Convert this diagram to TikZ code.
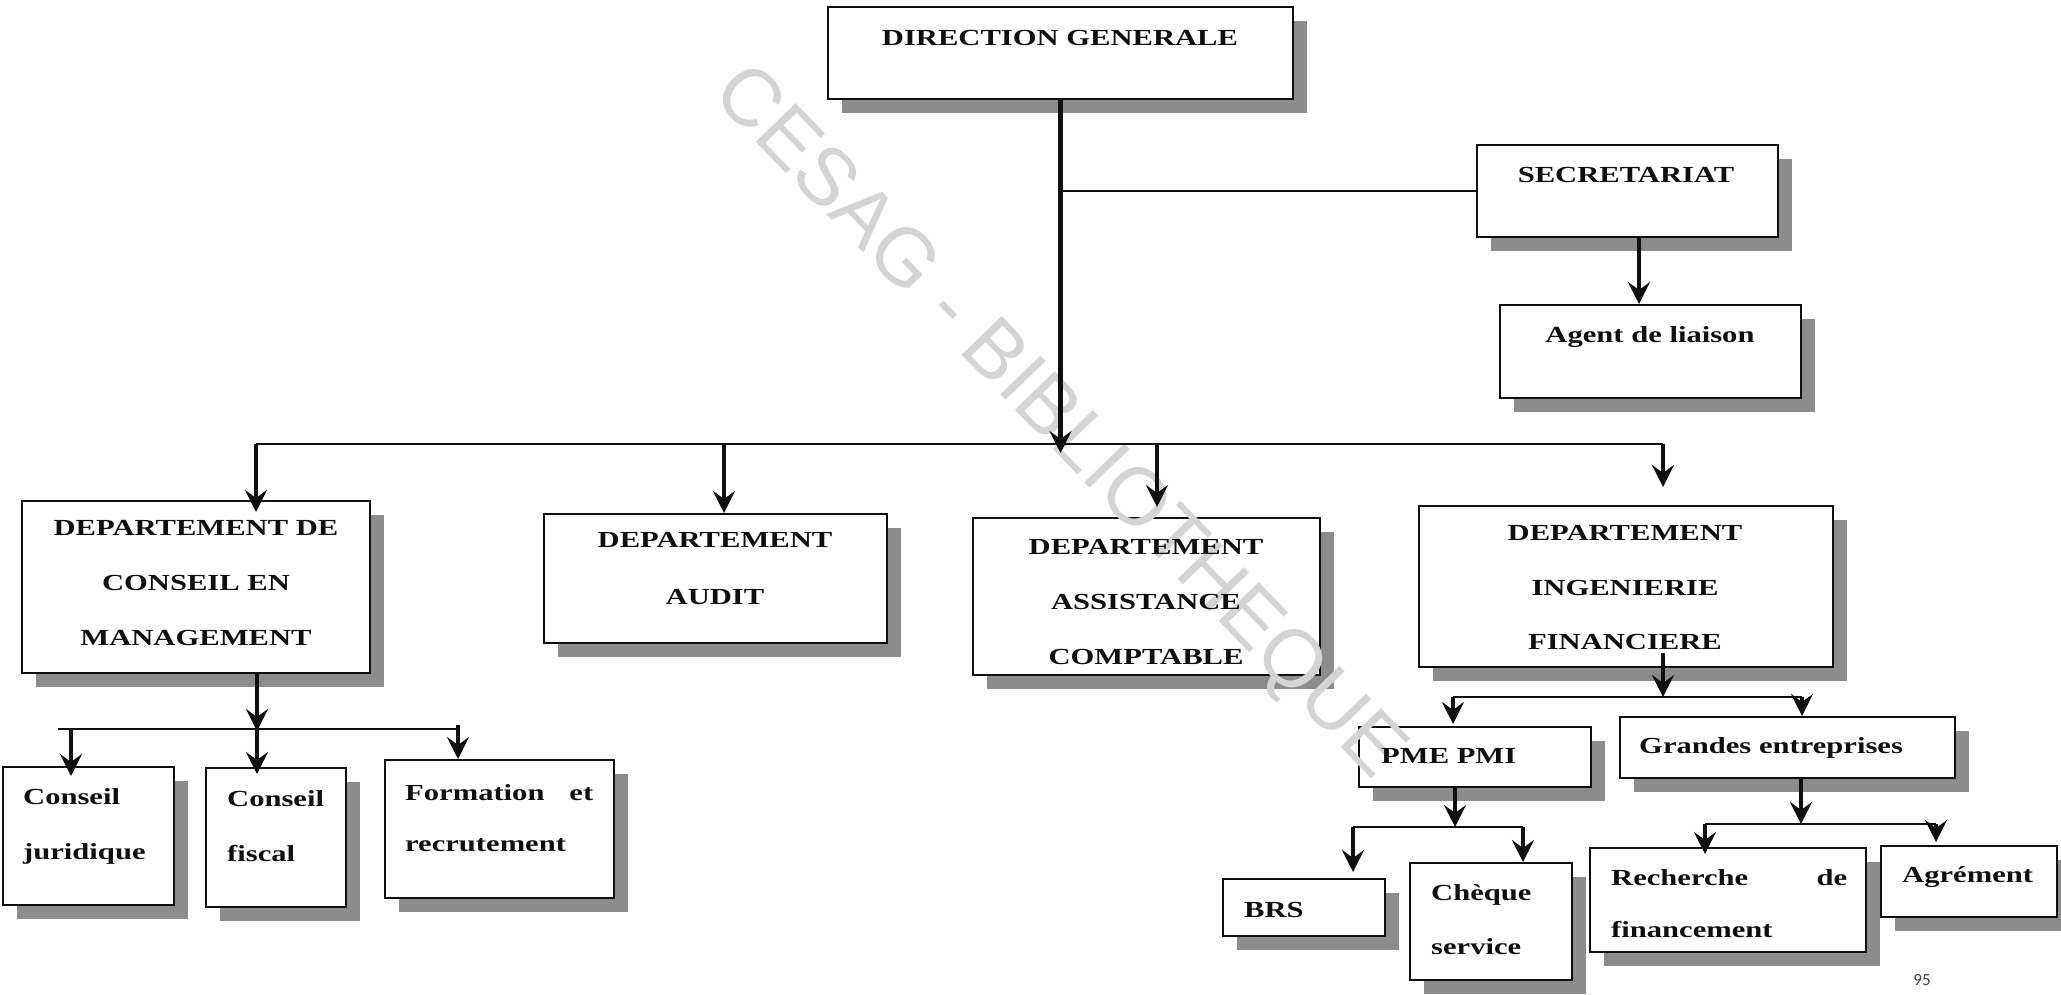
\documentclass[tikz,border=0pt]{standalone}
\usepackage{fontspec}
\setmainfont{Liberation Serif}[FakeStretch=1.33]
\newfontfamily\wmfont{Liberation Sans}
\newfontfamily\pagefont{Carlito}
\usetikzlibrary{arrows.meta,shadows}
\definecolor{shadowgray}{RGB}{140,140,140}
\definecolor{inkblack}{RGB}{15,15,15}
\definecolor{wmgray}{RGB}{212,212,212}

\begin{document}
\begin{tikzpicture}[x=1pt,y=-1pt,
  box/.style={draw=inkblack, line width=2pt, fill=white, inner sep=0pt,
    drop shadow={shadow xshift=14pt, shadow yshift=-14pt, fill=shadowgray, opacity=1}},
  lbl/.style={inner sep=0pt, text=inkblack, font=\bfseries\fontsize{23pt}{55pt}\selectfont},
  caps/.style={lbl, align=center},
  lefttxt/.style={lbl, align=left, anchor=west},
  bus/.style={draw=inkblack, line width=2.2pt},
  arr/.style={draw=inkblack, line width=4pt, -{Stealth[length=22pt,width=22pt,inset=8pt]}},
]
% page
\fill[white] (0,0) rectangle (2061,994);
\useasboundingbox (0,0) rectangle (2061,994);

% ---- boxes ----
\node[box, minimum width=465pt, minimum height=92pt]  (dg)      at (1060.5,53)  {};
\node[box, minimum width=301pt, minimum height=92pt]  (sec)     at (1627.5,191) {};
\node[box, minimum width=301pt, minimum height=93pt]  (agent)   at (1650.5,351.5) {};
\node[box, minimum width=348pt, minimum height=172pt] (dcm)     at (196,587)    {};
\node[box, minimum width=343pt, minimum height=129pt] (audit)   at (715.5,578.5) {};
\node[box, minimum width=347pt, minimum height=157pt] (assist)  at (1146.5,596.5) {};
\node[box, minimum width=414pt, minimum height=161pt] (di)      at (1626,586.5) {};
\node[box, minimum width=171pt, minimum height=138pt] (cj)      at (88.5,836)   {};
\node[box, minimum width=140pt, minimum height=139pt] (cf)      at (276,837.5)  {};
\node[box, minimum width=229pt, minimum height=138pt] (form)    at (499.5,829)  {};
\node[box, minimum width=232pt, minimum height=60pt]  (pme)     at (1475,757)   {};
\node[box, minimum width=335pt, minimum height=61pt]  (grandes) at (1787.5,747.5) {};
\node[box, minimum width=162pt, minimum height=57pt]  (brs)     at (1304,907.5) {};
\node[box, minimum width=162pt, minimum height=117pt] (cheque)  at (1491,921.5) {};
\node[box, minimum width=276pt, minimum height=104pt] (rech)    at (1728,900)   {};
\node[box, minimum width=176pt, minimum height=71pt]  (agr)     at (1969,881.5) {};

% ---- watermark ----
\node[rotate=-46, text=wmgray, inner sep=0pt,
      font=\wmfont\fontsize{81pt}{81pt}\selectfont] (wm) at (1057,424) {CESAG - BIBLIOTHEQUE};

% ---- junction points ----
\coordinate (jm) at (1060.5,444);
\coordinate (b1) at (256,444);
\coordinate (ba) at (724,444);
\coordinate (bs) at (1157,444);
\coordinate (b4) at (1663,444);
\coordinate (c0) at (257,729);
\coordinate (c1) at (58,729);
\coordinate (c2) at (71,729);
\coordinate (c3) at (458,729);
\coordinate (d0) at (1663,697);
\coordinate (d1) at (1453,697);
\coordinate (d2) at (1802,697);
\coordinate (e0) at (1455,827);
\coordinate (e1) at (1353,827);
\coordinate (e2) at (1523,827);
\coordinate (g0) at (1801,824);
\coordinate (g1) at (1705,824);
\coordinate (g2) at (1936,824);

% ---- connectors ----
% direction to departments and secretariat
\draw[arr, line width=4.5pt] (dg.south) -- ([yshift=-9pt]jm);
\draw[bus, line width=2pt] (dg.south |- sec.west) -- (sec.west);
\draw[arr] ([xshift=11.5pt]sec.south) -- ([xshift=11.5pt]sec.south |- agent.north);
\draw[bus] (b1) -- (b4);
\draw[arr, shorten >=-12pt] (b1) -- (b1 |- dcm.north);
\draw[arr] (ba) -- (ba |- audit.north);
\draw[arr, shorten >=10pt] (bs) -- (bs |- assist.north);
\draw[arr, shorten >=18pt] (b4) -- (b4 |- di.north);

% management consulting branch
\draw[arr] (dcm.south -| c0) -- ([yshift=-2pt]c0);
\draw[bus] (c1) -- (c3);
\draw[arr, shorten >=-7pt] (c0) -- (c0 |- cf.north);
\draw[arr, shorten >=-10pt] (c2) -- (c2 |- cj.north);
\draw[arr] ([yshift=4pt]c3) -- (c3 |- form.north);

% financial engineering branch
\draw[arr] ([yshift=15pt]di.south -| d0) -- (d0);
\draw[bus] (d1) -- (d2);
\draw[arr, shorten >=2pt] (d1) -- (d1 |- pme.north);
\draw[arr] (d2) -- (d2 |- grandes.north);

\draw[arr] (pme.south -| e0) -- (e0);
\draw[bus] (e1) -- (e2);
\draw[arr, shorten >=6pt] (e1) -- (e1 |- brs.north);
\draw[arr] (e2) -- (e2 |- cheque.north);

\draw[arr] (grandes.south -| g0) -- (g0);
\draw[bus] (g1) -- (g2);
\draw[arr, shorten >=-7pt] (g1) -- (g1 |- rech.north);
\draw[arr, shorten >=3pt] (g2) -- (g2 |- agr.north);

% ---- labels ----
\node[caps] (dg-t)     at (1060,38)   {DIRECTION GENERALE};
\node[caps] (sec-t)    at (1626,175)  {SECRETARIAT};
\node[caps] (agent-t)  at (1650,337)  {Agent de liaison};
\node[caps] (dcm-t)    at (196,583)   {DEPARTEMENT DE\\CONSEIL EN\\MANAGEMENT};
\node[caps, font=\bfseries\fontsize{23pt}{57pt}\selectfont] (audit-t) at (715,568.5) {DEPARTEMENT\\AUDIT};
\node[caps] (assist-t) at (1146,602)  {DEPARTEMENT\\ASSISTANCE\\COMPTABLE};
\node[caps, font=\bfseries\fontsize{23pt}{54.5pt}\selectfont] (di-t) at (1625,588) {DEPARTEMENT\\INGENIERIE\\FINANCIERE};

\node[lefttxt] (cj-t)   at (23,826)   {Conseil\\juridique};
\node[lefttxt] (cf-t)   at (227,826)  {Conseil\\fiscal};
\node[lefttxt, font=\bfseries\fontsize{23pt}{51pt}\selectfont] (form-t) at (405,818) {\makebox[188pt][s]{Formation et}\\recrutement};

\node[lefttxt] (pme-t)     at (1381,756) {PME PMI};
\node[lefttxt] (grandes-t) at (1639,748) {Grandes entreprises};
\node[lefttxt] (brs-t)     at (1244,910) {BRS};
\node[lefttxt, font=\bfseries\fontsize{23pt}{54pt}\selectfont] (cheque-t) at (1431,920) {Chèque\\service};
\node[lefttxt, font=\bfseries\fontsize{23pt}{52pt}\selectfont] (rech-t) at (1611,904) {\makebox[236pt][s]{Recherche de}\\financement};
\node[lefttxt] (agr-t)     at (1902,877) {Agrément};

\node[inner sep=0pt, text=black!75, font=\pagefont\fontsize{17pt}{17pt}\selectfont] (page) at (1922,980) {95};
\end{tikzpicture}
\end{document}
